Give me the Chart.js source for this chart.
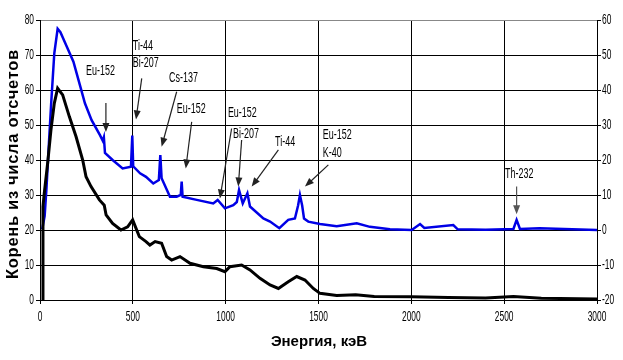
<!DOCTYPE html>
<html><head><meta charset="utf-8">
<script src="https://cdn.jsdelivr.net/npm/chart.js@4/dist/chart.umd.min.js"></script>
<style>html,body{margin:0;padding:0;background:#fff;}#wrap{width:623px;height:360px;}</style>
</head><body><div id="wrap"><canvas id="c" width="623" height="360"></canvas></div>
<script>
// ---- data (energy keV, sqrt counts) ----
const blackEnergy = [14,16,23,41,59,77,95,122,158,194,230,248,275,320,346,356,391,436,472,499,535,571,592,620,655,682,709,754,808,880,952,996,1023,1086,1131,1185,1239,1284,1337,1383,1427,1472,1508,1598,1700,1800,2000,2200,2400,2550,2700,3000];
const blackValue  = [0,26.7,30.5,39,48.6,56.2,60.5,58.6,52.4,46.7,40,35.2,32.4,28.6,27.1,24.3,21.9,20,20.9,22.9,18.1,16.7,15.7,16.7,16.2,12.4,11.4,12.4,10.5,9.5,9.0,8.1,9.5,10,8.6,6.2,4.3,3.3,5.2,6.7,5.7,3.3,1.9,1.3,1.5,1.0,0.9,0.7,0.6,1.0,0.5,0.3];
// blue series is read on the right axis
const blueEnergy = [12,25,35,50,60,77,95,110,144,180,215,242,278,323,338,344,350,391,445,490,497,502,539,571,610,640,648,655,700,736,758,763,768,844,933,957,996,1041,1060,1072,1092,1117,1131,1203,1239,1289,1337,1373,1390,1400,1412,1422,1445,1508,1598,1706,1777,1885,2002,2047,2070,2226,2250,2400,2550,2567,2585,2690,3000];
const blueValue  = [0.2,4,12,26.7,36,50.5,57.5,56.5,52.4,48.1,41.4,36.2,31.4,27.1,25.5,26.5,22,20,17.6,18.1,27,18.2,16.2,15.2,13.3,14.3,21.4,14.8,9.5,9.5,10,13.8,9.5,8.6,7.6,8.6,6.2,7.1,8,11.4,7.6,10.5,6.7,3.3,2.4,0.5,2.9,3.3,7,10,7,3.3,2.4,1.7,1.1,1.9,0.9,0.2,0,1.7,0.6,1.4,0.2,0.1,0.3,2.9,0.3,0.5,0];
const xTicks = [0,500,1000,1500,2000,2500,3000];
const leftTicks = [0,10,20,30,40,50,60,70,80];
const rightTicks = [-20,-10,0,10,20,30,40,50,60];
// isotope labels (energy, left-axis value of text centre line)
const labelText = ['Eu-152','Ti-44','Bi-207','Cs-137','Eu-152','Eu-152','Bi-207','Ti-44','Eu-152','K-40','Th-232'];
const labelE    = [248,500,500,695,737,1012,1040,1266,1523,1523,2505];
const labelV    = [65.4,72.4,67.8,63.3,54.6,53.3,47.4,45,47.1,42.1,36];
// arrows (from -> to), left-axis units
const arrowFromE = [355,548,736,817,1032,1086,1284,1553,2567];
const arrowFromV = [56.3,63.3,59.5,50.9,49,45.7,42.9,38.6,32.4];
const arrowToE   = [355,517,655,785,969,1068,1140,1427,2567];
const arrowToV   = [48,51.6,43.8,37.6,29,32.4,32.4,32.4,24.5];

const SANS = '"Liberation Sans", Arial, sans-serif';

function narrowText(ctx, txt, x, y, size, sx, align) {
  ctx.save();
  ctx.font = size + 'px ' + SANS;
  ctx.textAlign = align; ctx.textBaseline = 'middle';
  ctx.translate(x, y); ctx.scale(sx, 1);
  ctx.fillText(txt, 0, 0);
  ctx.restore();
}

const annoPlugin = {
  id: 'anno',
  afterDatasetsDraw(chart) {
    const ctx = chart.ctx, xs = chart.scales.x, ys = chart.scales.y;
    ctx.save();
    for (let i = 0; i < arrowFromE.length; i++) {
      const x1 = xs.getPixelForValue(arrowFromE[i]), y1 = ys.getPixelForValue(arrowFromV[i]);
      const x2 = xs.getPixelForValue(arrowToE[i]), y2 = ys.getPixelForValue(arrowToV[i]);
      const col = i === arrowFromE.length - 1 ? '#555' : '#222';
      const ang = Math.atan2(y2 - y1, x2 - x1), L = 9, W = 3.5;
      ctx.strokeStyle = col; ctx.fillStyle = col; ctx.lineWidth = 1.2;
      ctx.beginPath(); ctx.moveTo(x1, y1);
      ctx.lineTo(x2 - Math.cos(ang) * L * 0.8, y2 - Math.sin(ang) * L * 0.8); ctx.stroke();
      ctx.beginPath(); ctx.moveTo(x2, y2);
      ctx.lineTo(x2 - Math.cos(ang) * L - Math.sin(ang) * W, y2 - Math.sin(ang) * L + Math.cos(ang) * W);
      ctx.lineTo(x2 - Math.cos(ang) * L + Math.sin(ang) * W, y2 - Math.sin(ang) * L - Math.cos(ang) * W);
      ctx.closePath(); ctx.fill();
    }
    ctx.fillStyle = '#000';
    for (let i = 0; i < labelText.length; i++) {
      narrowText(ctx, labelText[i], xs.getPixelForValue(labelE[i]), ys.getPixelForValue(labelV[i]), 14, 0.64, 'left');
    }
    ctx.restore();
  },
  afterDraw(chart) {
    const ctx = chart.ctx, ca = chart.chartArea;
    const xs = chart.scales.x, ys = chart.scales.y, y2s = chart.scales.y2;
    ctx.save();
    ctx.fillStyle = '#000';
    // tick labels (narrow)
    xTicks.forEach(v => narrowText(ctx, String(v), xs.getPixelForValue(v), ca.bottom + 17, 14, 0.6, 'center'));
    leftTicks.forEach(v => narrowText(ctx, String(v), ca.left - 6, ys.getPixelForValue(v), 14, 0.6, 'right'));
    rightTicks.forEach(v => narrowText(ctx, String(v), ca.right + 5, y2s.getPixelForValue(v), 14, 0.6, 'left'));
    // axis titles
    ctx.font = 'bold 16.5px ' + SANS;
    ctx.textAlign = 'center'; ctx.textBaseline = 'middle';
    try { ctx.letterSpacing = '0.7px'; } catch (e) {}
    ctx.save();
    ctx.translate(13, 164);
    ctx.rotate(-Math.PI / 2);
    ctx.fillText('Корень из числа отсчетов', 0, 0);
    ctx.restore();
    try { ctx.letterSpacing = '0px'; } catch (e) {}
    ctx.font = 'bold 15px ' + SANS;
    ctx.fillText('Энергия, кэВ', 319, 342);
    ctx.restore();
  }
};

new Chart(document.getElementById('c'), {
  type: 'line',
  data: {
    datasets: [
      { data: blackEnergy.map((e, i) => ({ x: e, y: blackValue[i] })), yAxisID: 'y',
        borderColor: '#000', borderWidth: 3, pointRadius: 0, tension: 0 },
      { data: blueEnergy.map((e, i) => ({ x: e, y: blueValue[i] })), yAxisID: 'y2',
        borderColor: '#0000e6', borderWidth: 2.5, pointRadius: 0, tension: 0 }
    ]
  },
  options: {
    responsive: false, animation: false, devicePixelRatio: 1,
    layout: { padding: { top: 20, left: 0, right: 0, bottom: 0 } },
    plugins: { legend: { display: false }, tooltip: { enabled: false } },
    scales: {
      x: {
        type: 'linear', min: 0, max: 3000,
        afterBuildTicks: s => { s.ticks = xTicks.map(v => ({ value: v })); },
        afterFit: s => { s.height = 60; },
        ticks: { display: false },
        grid: { color: '#000', lineWidth: 1, tickLength: 4, tickColor: '#000' },
        border: { color: '#000', width: 1 }
      },
      y: {
        position: 'left', min: 0, max: 80,
        afterBuildTicks: s => { s.ticks = leftTicks.map(v => ({ value: v })); },
        afterFit: s => { s.width = 40; },
        ticks: { display: false },
        grid: { color: c => (c.tick && c.tick.value === 80 ? '#888' : '#000'), lineWidth: 1, tickLength: 4, tickColor: '#000' },
        border: { color: '#000', width: 1 }
      },
      y2: {
        position: 'right', min: -20, max: 60,
        afterBuildTicks: s => { s.ticks = rightTicks.map(v => ({ value: v })); },
        afterFit: s => { s.width = 26; },
        ticks: { display: false },
        grid: { drawOnChartArea: false, tickLength: 4, tickColor: '#000' },
        border: { color: '#000', width: 1 }
      }
    }
  },
  plugins: [annoPlugin]
});
</script></body></html>
